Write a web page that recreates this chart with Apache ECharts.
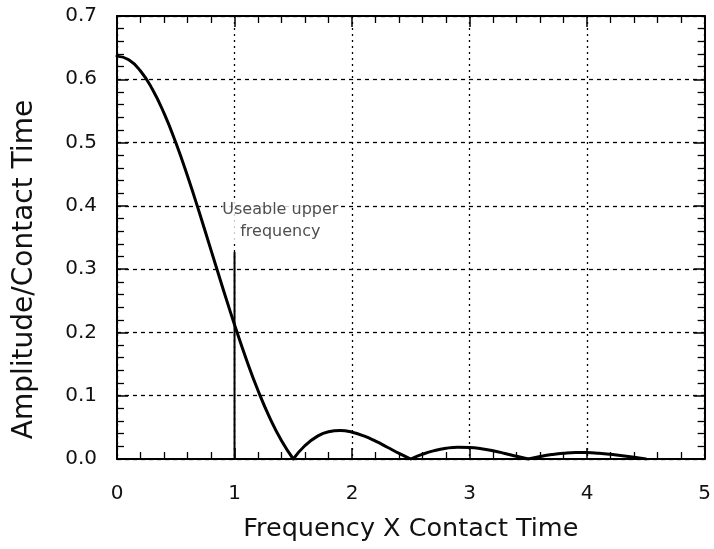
<!DOCTYPE html>
<html>
<head>
<meta charset="utf-8">
<script src="https://cdn.jsdelivr.net/npm/echarts@6/dist/echarts.min.js"></script>
<style>html,body{margin:0;padding:0;background:#fff}#c{width:714px;height:549px}</style>
</head>
<body>
<div id="c"></div>
<script>
var freq = [0,0.1,0.2,0.3,0.4,0.5,0.6,0.7,0.8,0.9,1.0,1.1,1.2,1.3,1.4,1.5,1.6,1.7,1.8,1.9,2.0,2.1,2.2,2.3,2.4,2.5,2.6,2.7,2.8,2.9,3.0,3.1,3.2,3.3,3.4,3.5,3.6,3.7,3.8,3.9,4.0,4.1,4.2,4.3,4.4,4.5];
var amplitude = [0.6366,0.6307,0.6131,0.5847,0.5464,0.5000,0.4471,0.3898,0.3301,0.2703,0.2122,0.1577,0.1082,0.0650,0.0288,0.0000,0.0213,0.0354,0.0431,0.0451,0.0424,0.0364,0.0281,0.0186,0.0089,0.0000,0.0076,0.0133,0.0170,0.0186,0.0182,0.0162,0.0129,0.0088,0.0043,0.0000,0.0039,0.0070,0.0091,0.0101,0.0101,0.0091,0.0074,0.0051,0.0026,0.0000];
var markerX = [1, 1];
var markerY = [0, 0.327];
var noteText = 'Useable upper\nfrequency';
var notePos = [1.39, 0.376];
var xTicks = ['0','1','2','3','4','5'];
var yTicks = ['0.0','0.1','0.2','0.3','0.4','0.5','0.6','0.7'];

// split the curve into lobes at its zeros so the cusps stay sharp
var lobes = [];
var cur = [];
freq.forEach(function(f,i){
  cur.push([f, amplitude[i]]);
  if (amplitude[i] === 0 && i > 0) { lobes.push(cur); cur = [[f, amplitude[i]]]; }
});
if (cur.length > 1) lobes.push(cur);
var marker = markerX.map(function(x,i){return [x, markerY[i]];});

var chart = echarts.init(document.getElementById('c'), null, {renderer:'canvas'});
var font = 'DejaVu Sans, sans-serif';
function ax(extra){
  var o = {
    axisLine:{show:true, onZero:false, lineStyle:{color:'#000', width:2}},
    axisTick:{show:true, inside:true, length:11, lineStyle:{color:'#000', width:1.5}},
    minorTick:{show:true, splitNumber:5, length:7, lineStyle:{color:'#000', width:1.3}}
  };
  for (var k in extra) o[k] = extra[k];
  return o;
}
var series = lobes.map(function(d){
  return {type:'line', data:d, smooth:0.5, showSymbol:false, symbol:'none',
    lineStyle:{color:'#000', width:3, cap:'round', join:'round'}, z:5};
});
series.push({type:'line', data:marker, showSymbol:false, symbol:'none',
  lineStyle:{color:'#000', width:2}, z:4});
series.push({type:'scatter', data:[notePos], symbolSize:0,
  label:{show:true, position:'inside', formatter:noteText, fontFamily:font,
    fontSize:16, color:'#222', lineHeight:22, align:'center', verticalAlign:'middle',
    backgroundColor:'#fff'}, z:6});

chart.setOption({
  animation:false,
  backgroundColor:'#fff',
  grid:{left:117, right:8, top:16, bottom:90, show:false},
  xAxis:[
    ax({type:'value', min:0, max:5, interval:1, position:'bottom',
      name:'Frequency X Contact Time', nameLocation:'middle', nameGap:57,
      nameTextStyle:{fontFamily:font, fontSize:25.5, color:'#111'},
      axisLabel:{fontFamily:font, fontSize:20, color:'#111', margin:25,
        formatter:function(v){return xTicks[Math.round(v)];}},
      splitLine:{show:true, lineStyle:{color:'#000', type:[2,4], width:1.3}}
    }),
    ax({type:'value', min:0, max:5, interval:1, position:'top',
      axisLabel:{show:false}, splitLine:{show:false}})
  ],
  yAxis:[
    ax({type:'value', min:0, max:0.7, interval:0.1, position:'left',
      name:'Amplitude/Contact Time', nameLocation:'middle', nameGap:78,
      nameTextStyle:{fontFamily:font, fontSize:28, color:'#111', padding:[0,64,0,0]},
      axisLabel:{fontFamily:font, fontSize:20, color:'#111', margin:20,
        formatter:function(v){return yTicks[Math.round(v*10)];}},
      splitLine:{show:true, lineStyle:{color:'#000', type:[4,4], width:1.3}}
    }),
    ax({type:'value', min:0, max:0.7, interval:0.1, position:'right',
      axisLabel:{show:false}, splitLine:{show:false}})
  ],
  series: series
});
</script>
</body>
</html>
